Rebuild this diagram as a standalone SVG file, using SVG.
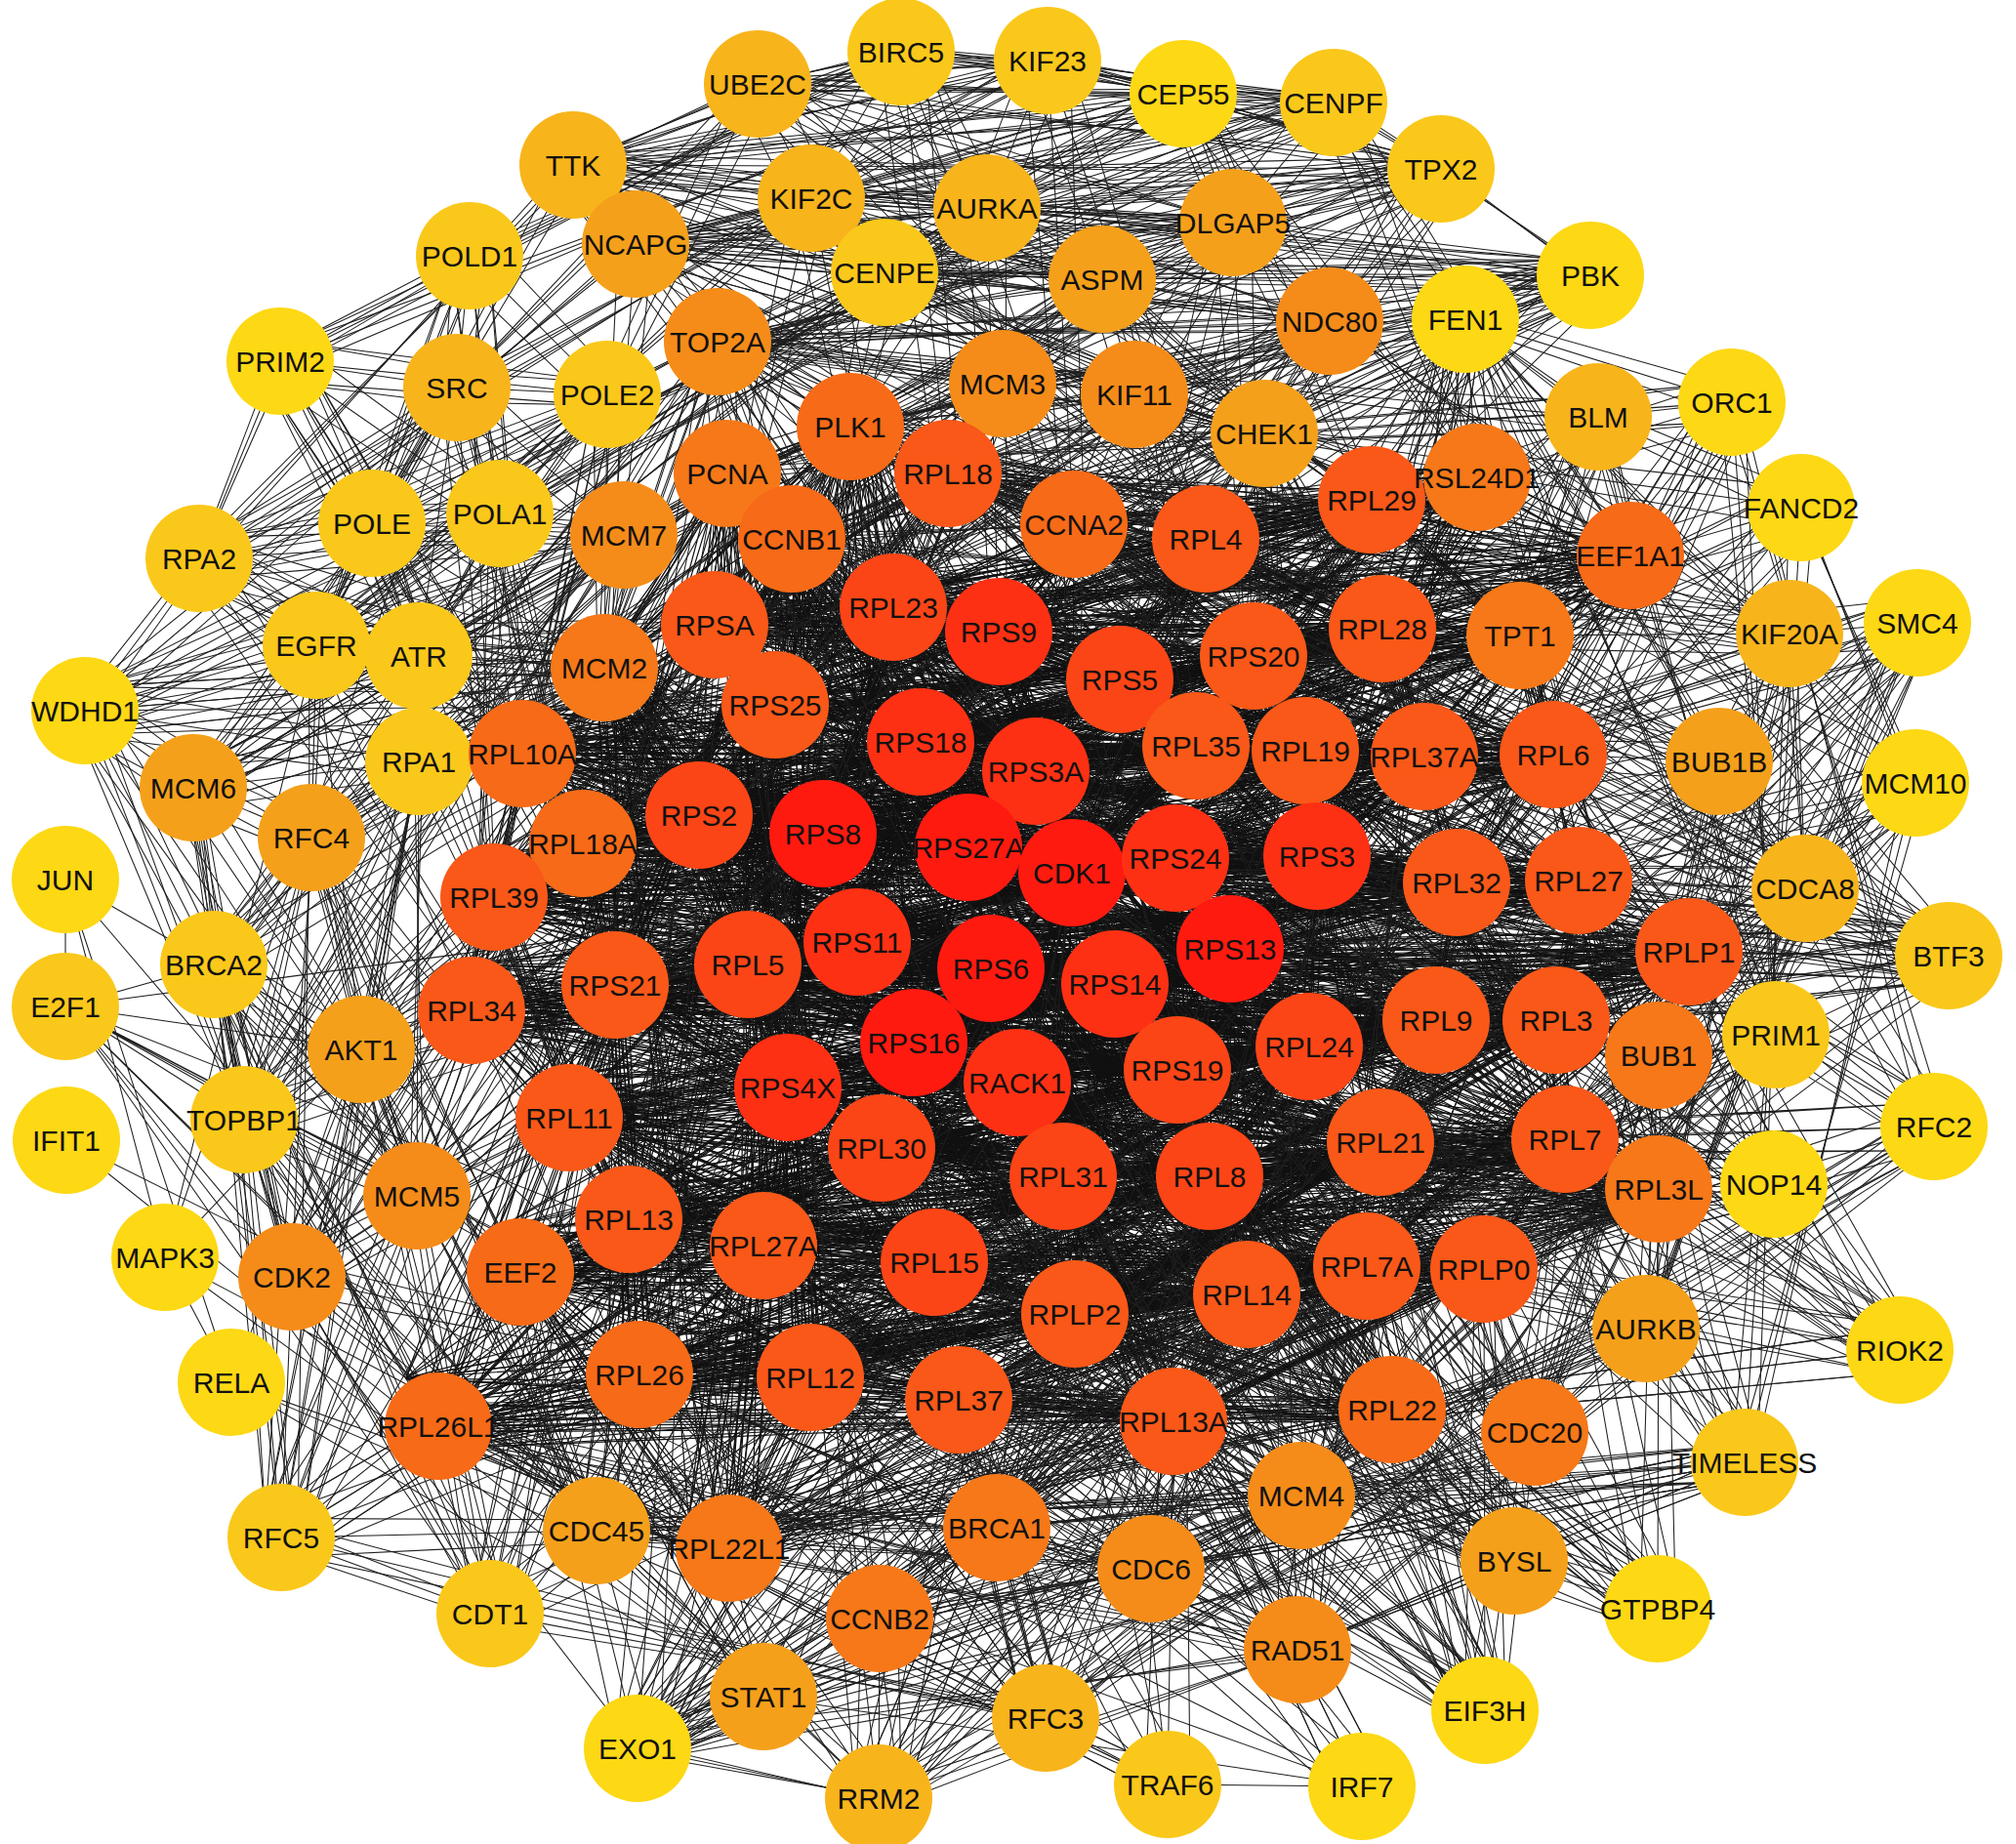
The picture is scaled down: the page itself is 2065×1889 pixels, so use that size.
<svg xmlns="http://www.w3.org/2000/svg" width="2065" height="1889" viewBox="0 0 2065 1889">
<style>
.e{fill:none;stroke:#1e1e1e;stroke-width:1.05;stroke-linejoin:bevel}
.k{stroke-width:1.2;stroke:#111}
text{font-family:"Liberation Sans",Arial,sans-serif;font-size:30px;fill:#111;text-anchor:middle;dominant-baseline:central}
.c1{fill:#FDD814}.c2{fill:#FAC81A}.c3{fill:#F8B41B}.c4{fill:#F5A01A}.c5{fill:#F58C19}.c6{fill:#F67818}.c7{fill:#F76A17}.c8{fill:#F95818}.c9{fill:#FC4516}.c10{fill:#FE3013}.c11{fill:#FF1A10}
</style>
<rect width="2065" height="1889" fill="#fff"/>
<g id="connectors">
<g id="core">
<path class="e k" d="M971 485L1100 537L1235 552L1405 512L1513 489L1670 569L915 622L732 640L1023 647L1147 696L1284 672L1416 644L1557 651L794 722L943 760L1061 790L1225 764L1337 769L1459 775L1591 773L535 772L597 864L716 835L843 854L992 868L1098 894L1204 879L1349 877L1492 904L1617 902L506 919L878 965L766 988L1015 992L1142 1008L1260 972L1730 975L483 1035L630 1009L1471 1045L1594 1045L936 1068L1042 1109L1206 1096L1341 1072L807 1114L583 1145L903 1176L1089 1205L1239 1205L1414 1170L1603 1167L1699 1218L644 1249L782 1276L957 1293L533 1303L1101 1346L1277 1326L1400 1297L1520 1300L655 1408L830 1411L982 1434L449 1461L1202 1456L1426 1444L747 1586L619 684L811 552L871 437L745 485"/>
<path class="e k" d="M971 485L1235 552L1513 489L915 622L1023 647L1284 672L1557 651L943 760L1225 764L1459 775L535 772L716 835L992 868L1204 879L1492 904L506 919L766 988L1142 1008L1730 975L630 1009L1594 1045L1042 1109L1341 1072L583 1145L1089 1205L1414 1170L1699 1218L782 1276L533 1303L1277 1326L1520 1300L830 1411L449 1461L1426 1444L619 684L871 437M1100 537L1405 512L1670 569L732 640L1147 696L1416 644L794 722L1061 790L1337 769L1591 773L597 864L843 854L1098 894L1349 877L1617 902L878 965L1015 992L1260 972L483 1035L1471 1045L936 1068L1206 1096L807 1114L903 1176L1239 1205L1603 1167L644 1249L957 1293L1101 1346L1400 1297L655 1408L982 1434L1202 1456L747 1586L811 552L745 485"/>
<path class="e k" d="M971 485L1405 512L915 622L1147 696L1557 651L1061 790L1459 775L597 864L992 868L1349 877L506 919L1015 992L1730 975L1471 1045L1042 1109L807 1114L1089 1205L1603 1167L782 1276L1101 1346L1520 1300L982 1434L1426 1444L811 552M1100 537L1513 489L732 640L1284 672L794 722L1225 764L1591 773L716 835L1098 894L1492 904L878 965L1142 1008L483 1035L1594 1045L1206 1096L583 1145L1239 1205L1699 1218L957 1293L1277 1326L655 1408L449 1461L747 1586L871 437M1235 552L1670 569L1023 647L1416 644L943 760L1337 769L535 772L843 854L1204 879L1617 902L766 988L1260 972L630 1009L936 1068L1341 1072L903 1176L1414 1170L644 1249L533 1303L1400 1297L830 1411L1202 1456L619 684L745 485"/>
<path class="e k" d="M971 485L1670 569L1284 672L1061 790L535 772L1098 894L506 919L1260 972L1594 1045L807 1114L1414 1170L957 1293L1520 1300L1202 1456L871 437M1100 537L915 622L1416 644L1225 764L597 864L1204 879L878 965L1730 975L936 1068L583 1145L1603 1167L533 1303L655 1408L1426 1444L745 485M1235 552L732 640L1557 651L1337 769L716 835L1349 877L766 988L483 1035L1042 1109L903 1176L1699 1218L1101 1346L830 1411L747 1586M1405 512L1023 647L794 722L1459 775L843 854L1492 904L1015 992L630 1009L1206 1096L1089 1205L644 1249L1277 1326L982 1434L619 684M1513 489L1147 696L943 760L1591 773L992 868L1617 902L1142 1008L1471 1045L1341 1072L1239 1205L782 1276L1400 1297L449 1461L811 552"/>
<path class="e k" d="M971 485L732 640L943 760L597 864L1492 904L1260 972L1042 1109L1239 1205L533 1303L982 1434L871 437M1100 537L1023 647L1061 790L716 835L1617 902L1730 975L1206 1096L1414 1170L1101 1346L449 1461L745 485M1235 552L1147 696L1225 764L843 854L506 919L483 1035L1341 1072L1603 1167L1277 1326L1202 1456M1405 512L1284 672L1337 769L992 868L878 965L630 1009L807 1114L1699 1218L1400 1297L1426 1444M1513 489L1416 644L1459 775L1098 894L766 988L1471 1045L583 1145L644 1249L1520 1300L747 1586M1670 569L1557 651L1591 773L1204 879L1015 992L1594 1045L903 1176L782 1276L655 1408L619 684M915 622L794 722L535 772L1349 877L1142 1008L936 1068L1089 1205L957 1293L830 1411L811 552"/>
<path class="e k" d="M971 485L1147 696L1459 775L1349 877L1730 975L807 1114L782 1276L982 1434M1100 537L1284 672L1591 773L1492 904L483 1035L583 1145L957 1293L449 1461M1235 552L1416 644L535 772L1617 902L630 1009L903 1176L533 1303L1202 1456M1405 512L1557 651L597 864L506 919L1471 1045L1089 1205L1101 1346L1426 1444M1513 489L794 722L716 835L878 965L1594 1045L1239 1205L1277 1326L747 1586M1670 569L943 760L843 854L766 988L936 1068L1414 1170L1400 1297L619 684M915 622L1061 790L992 868L1015 992L1042 1109L1603 1167L1520 1300L811 552M732 640L1225 764L1098 894L1142 1008L1206 1096L1699 1218L655 1408L871 437M1023 647L1337 769L1204 879L1260 972L1341 1072L644 1249L830 1411L745 485"/>
<path class="e k" d="M971 485L1416 644L716 835L1015 992L1341 1072L957 1293L1426 1444M1100 537L1557 651L843 854L1142 1008L807 1114L533 1303L747 1586M1235 552L794 722L992 868L1260 972L583 1145L1101 1346L619 684M1405 512L943 760L1098 894L1730 975L903 1176L1277 1326L811 552M1513 489L1061 790L1204 879L483 1035L1089 1205L1400 1297L871 437M1670 569L1225 764L1349 877L630 1009L1239 1205L1520 1300L745 485M915 622L1337 769L1492 904L1471 1045L1414 1170L655 1408M732 640L1459 775L1617 902L1594 1045L1603 1167L830 1411M1023 647L1591 773L506 919L936 1068L1699 1218L982 1434M1147 696L535 772L878 965L1042 1109L644 1249L449 1461M1284 672L597 864L766 988L1206 1096L782 1276L1202 1456"/>
<path class="e k" d="M971 485L794 722L1204 879L1471 1045L1699 1218L1202 1456M1100 537L943 760L1349 877L1594 1045L644 1249L1426 1444M1235 552L1061 790L1492 904L936 1068L782 1276L747 1586M1405 512L1225 764L1617 902L1042 1109L957 1293L619 684M1513 489L1337 769L506 919L1206 1096L533 1303L811 552M1670 569L1459 775L878 965L1341 1072L1101 1346L871 437M915 622L1591 773L766 988L807 1114L1277 1326L745 485M732 640L535 772L1015 992L583 1145L1400 1297M1023 647L597 864L1142 1008L903 1176L1520 1300M1147 696L716 835L1260 972L1089 1205L655 1408M1284 672L843 854L1730 975L1239 1205L830 1411M1416 644L992 868L483 1035L1414 1170L982 1434M1557 651L1098 894L630 1009L1603 1167L449 1461"/>
<path class="e k" d="M971 485L1337 769L1142 1008L1603 1167L619 684M1100 537L1459 775L1260 972L1699 1218L811 552M1235 552L1591 773L1730 975L644 1249L871 437M1405 512L535 772L483 1035L782 1276L745 485M1513 489L597 864L630 1009L957 1293M1670 569L716 835L1471 1045L533 1303M915 622L843 854L1594 1045L1101 1346M732 640L992 868L936 1068L1277 1326M1023 647L1098 894L1042 1109L1400 1297M1147 696L1204 879L1206 1096L1520 1300M1284 672L1349 877L1341 1072L655 1408M1416 644L1492 904L807 1114L830 1411M1557 651L1617 902L583 1145L982 1434M794 722L506 919L903 1176L449 1461M943 760L878 965L1089 1205L1202 1456M1061 790L766 988L1239 1205L1426 1444M1225 764L1015 992L1414 1170L747 1586"/>
<path class="e k" d="M971 485L843 854L583 1145L811 552M1100 537L992 868L903 1176L871 437M1235 552L1098 894L1089 1205L745 485M1405 512L1204 879L1239 1205M1513 489L1349 877L1414 1170M1670 569L1492 904L1603 1167M915 622L1617 902L1699 1218M732 640L506 919L644 1249M1023 647L878 965L782 1276M1147 696L766 988L957 1293M1284 672L1015 992L533 1303M1416 644L1142 1008L1101 1346M1557 651L1260 972L1277 1326M794 722L1730 975L1400 1297M943 760L483 1035L1520 1300M1061 790L630 1009L655 1408M1225 764L1471 1045L830 1411M1337 769L1594 1045L982 1434M1459 775L936 1068L449 1461M1591 773L1042 1109L1202 1456M535 772L1206 1096L1426 1444M597 864L1341 1072L747 1586M716 835L807 1114L619 684"/>
</g>
<g id="outer">
<path class="e" d="M923 53L1073 62L776 86L1212 96L1366 105L587 169L831 203L1011 213L1476 173L1263 228L651 250L906 279L1129 286L1629 282L1362 329L735 350L1162 404L1295 444L871 437L811 552L1100 537L1833 649L1761 780L1849 910L1699 1081L1098 894L1686 1361L1572 1467L1964 638L901 1658L900 1842L653 1791L745 485L1333 1532L1179 1607L611 1568L1787 1498L1329 1690L1021 1565L1501 327L1962 802"/>
<path class="e" d="M923 53L776 86L1366 105L831 203L1476 173L651 250L1129 286L1362 329L1162 404L871 437L1100 537L1761 780L1699 1081L1686 1361L1964 638L900 1842L745 485L1179 1607L1787 1498L1021 1565L1962 802M1073 62L1212 96L587 169L1011 213L1263 228L906 279L1629 282L735 350L1295 444L811 552L1833 649L1849 910L1098 894L1572 1467L901 1658L653 1791L1333 1532L611 1568L1329 1690L1501 327"/>
<path class="e" d="M923 53L1212 96L831 203L1263 228L1129 286L735 350L871 437L1833 649L1699 1081L1572 1467L900 1842L1333 1532L1787 1498L1501 327M1073 62L1366 105L1011 213L651 250L1629 282L1162 404L811 552L1761 780L1098 894L1964 638L653 1791L1179 1607L1329 1690L1962 802M776 86L587 169L1476 173L906 279L1362 329L1295 444L1100 537L1849 910L1686 1361L901 1658L745 485L611 1568L1021 1565"/>
<path class="e" d="M923 53L587 169L651 250L735 350L1100 537L1098 894L900 1842L611 1568L1962 802M1073 62L831 203L906 279L1162 404L1833 649L1686 1361L653 1791L1787 1498M776 86L1011 213L1129 286L1295 444L1761 780L1572 1467L745 485L1329 1690M1212 96L1476 173L1629 282L871 437L1849 910L1964 638L1333 1532L1021 1565M1366 105L1263 228L1362 329L811 552L1699 1081L901 1658L1179 1607L1501 327"/>
<path class="e" d="M923 53L1011 213L1362 329L1833 649L1964 638L611 1568M1073 62L1476 173L735 350L1761 780L901 1658L1787 1498M776 86L1263 228L1162 404L1849 910L900 1842L1329 1690M1212 96L651 250L1295 444L1699 1081L653 1791L1021 1565M1366 105L906 279L871 437L1098 894L745 485L1501 327M587 169L1129 286L811 552L1686 1361L1333 1532L1962 802M831 203L1629 282L1100 537L1572 1467L1179 1607"/>
<path class="e" d="M923 53L1366 105L1476 173L1129 286L1162 404L1100 537M1073 62L587 169L1263 228L1629 282L1295 444M776 86L831 203L651 250L1362 329L871 437M1212 96L1011 213L906 279L735 350L811 552M923 53L831 203L1129 286L871 437M1073 62L1011 213L1629 282L811 552M776 86L1476 173L1362 329L1100 537M1212 96L1263 228L735 350M1366 105L651 250L1162 404M587 169L906 279L1295 444"/>
<path class="e" d="M481 262L287 370L468 397L622 404L512 526L381 536L204 572L324 661L429 672L639 548L619 684L87 728L198 807L429 780L319 858L219 988L250 1147L370 1075L427 1225L299 1308L288 1575L611 1568L502 1653L1027 393L745 485L735 350L1333 1532L1071 1760L1981 1154L1819 1060L1501 327L1774 412L1637 427L1179 1607L1021 1565L1329 1690L653 1791L1098 894L1295 444L1845 520L1787 1498L1962 802"/>
<path class="e" d="M481 262L468 397L512 526L204 572L429 672L619 684L198 807L319 858L250 1147L427 1225L288 1575L502 1653L745 485L1333 1532L1981 1154L1501 327L1637 427L1021 1565L653 1791L1295 444L1787 1498M287 370L622 404L381 536L324 661L639 548L87 728L429 780L219 988L370 1075L299 1308L611 1568L1027 393L735 350L1071 1760L1819 1060L1774 412L1179 1607L1329 1690L1098 894L1845 520L1962 802"/>
<path class="e" d="M481 262L622 404L204 572L639 548L198 807L219 988L427 1225L611 1568L745 485L1071 1760L1501 327L1179 1607L653 1791L1845 520M287 370L512 526L324 661L619 684L429 780L250 1147L299 1308L502 1653L735 350L1981 1154L1774 412L1021 1565L1098 894L1787 1498M468 397L381 536L429 672L87 728L319 858L370 1075L288 1575L1027 393L1333 1532L1819 1060L1637 427L1329 1690L1295 444L1962 802"/>
<path class="e" d="M481 262L381 536L619 684L219 988L288 1575L735 350L1501 327L1329 1690L1787 1498M287 370L204 572L87 728L250 1147L611 1568L1333 1532L1774 412L653 1791L1962 802M468 397L324 661L198 807L370 1075L502 1653L1071 1760L1637 427L1098 894M622 404L429 672L429 780L427 1225L1027 393L1981 1154L1179 1607L1295 444M512 526L639 548L319 858L299 1308L745 485L1819 1060L1021 1565L1845 520"/>
<path class="e" d="M481 262L324 661L319 858L611 1568L1981 1154L1329 1690M287 370L429 672L219 988L502 1653L1819 1060L653 1791M468 397L639 548L250 1147L1027 393L1501 327L1098 894M622 404L619 684L370 1075L745 485L1774 412L1295 444M512 526L87 728L427 1225L735 350L1637 427L1845 520M381 536L198 807L299 1308L1333 1532L1179 1607L1787 1498M204 572L429 780L288 1575L1071 1760L1021 1565L1962 802"/>
<path class="e" d="M481 262L512 526L429 672L198 807L250 1147L288 1575M287 370L381 536L639 548L429 780L370 1075L611 1568M468 397L204 572L619 684L319 858L427 1225L502 1653M622 404L324 661L87 728L219 988L299 1308"/>
<path class="e" d="M481 262L923 53L287 370L1073 62L468 397L776 86L622 404L1212 96L512 526L1366 105L381 536L587 169L204 572L831 203L324 661L1011 213L429 672L1476 173L639 548L1263 228L619 684L651 250L87 728L906 279L198 807L1129 286L429 780L1629 282L319 858L1362 329L219 988L735 350L250 1147L1162 404L370 1075L1295 444L427 1225L871 437L299 1308L811 552"/>
<path class="e" d="M971 485L923 53L1100 537L1073 62L1235 552L776 86L1405 512L1212 96L1513 489L1366 105L1670 569L587 169L915 622L831 203L732 640L1011 213L1023 647L1476 173L1147 696L1263 228L1284 672L651 250L1416 644L906 279L1557 651L1129 286L794 722L1629 282L943 760L1362 329L1061 790L735 350L1225 764L1162 404L1337 769L1295 444L1459 775L871 437L1591 773L811 552"/>
<path class="e" d="M502 1653L644 1249L611 1568L782 1276L653 1791L957 1293L782 1738L533 1303L900 1842L1101 1346L901 1658L1277 1326L1021 1565L655 1408L1071 1760L830 1411L1179 1607L982 1434L1196 1828L449 1461L1329 1690L1202 1456L1333 1532L903 1176L1395 1830L1089 1205L1551 1599L583 1145L1521 1752L807 1114L1698 1648L1239 1205L288 1575L1042 1109L747 1586L1015 992"/>
<path class="e" d="M502 1653L782 1276L611 1568L957 1293L653 1791L533 1303L782 1738L1101 1346L900 1842L1277 1326L901 1658L655 1408L1021 1565L830 1411L1071 1760L982 1434L1179 1607L449 1461L1196 1828L1202 1456L1329 1690L903 1176L1333 1532L1089 1205L1395 1830L583 1145L1551 1599L807 1114L1521 1752L1239 1205L1698 1648L1042 1109L288 1575L1015 992L747 1586L644 1249"/>
<path class="e" d="M481 262L535 772L287 370L597 864L468 397L506 919L622 404L483 1035L512 526L630 1009L381 536L583 1145L204 572L716 835L324 661L732 640L429 672L794 722L87 728L619 684L198 807L745 485L429 780L644 1249L319 858L533 1303L219 988L449 1461L250 1147L766 988L370 1075L843 854L427 1225L1098 894L299 1308L992 868"/>
<path class="e" d="M1629 282L1405 512L1501 327L1513 489L1774 412L1670 569L1637 427L1416 644L1845 520L1557 651L1833 649L1459 775L1964 638L1591 773L1761 780L1492 904L1962 802L1617 902L1849 910L1730 975L1996 979L1471 1045L1819 1060L1594 1045L1699 1081L1603 1167L1981 1154L1414 1170L1817 1213L1520 1300L1699 1218L1400 1297L1686 1361L1426 1444L1946 1383L1349 877L1787 1498L1337 769L1572 1467L1284 672"/>
<path class="e" d="M1730 975L1996 979L1617 902M1594 1045L1996 979L1492 904M1591 773L1996 979L1459 775M1471 1045L1996 979L1349 877M1603 1167L1996 979L1699 1218M1557 651L1996 979L1670 569M1341 1072L1996 979L1098 894M1337 769L1996 979L1260 972M1204 879L1996 979L1416 644"/>
<path class="e" d="M1520 1300L1521 1752L1426 1444M1202 1456L1521 1752L1400 1297M1277 1326L1521 1752L1603 1167M1414 1170L1521 1752L1101 1346M982 1434L1521 1752L1239 1205M830 1411L1521 1752L1098 894M1426 1444L1698 1648L1520 1300M1699 1218L1698 1648L1400 1297M1202 1456L1698 1648L1603 1167M1277 1326L1698 1648L982 1434"/>
<path class="e" d="M1699 1218L1946 1383L1603 1167M1594 1045L1946 1383L1730 975M1520 1300L1946 1383L1471 1045M1414 1170L1946 1383L1400 1297M1617 902L1946 1383L1426 1444M1426 1444L1551 1599L1202 1456M1400 1297L1551 1599L1277 1326M1520 1300L1551 1599L1101 1346M1239 1205L1551 1599L1414 1170M957 1293L1551 1599L1089 1205M1699 1218L1817 1213L1603 1167M1594 1045L1817 1213L1730 975M1471 1045L1817 1213L1414 1170M1520 1300L1817 1213L1492 904"/>
</g>
<path class="e" d="M67 901L67 1031M67 901L370 1075M67 901L169 1288M67 901L782 1738M67 901L237 1416M219 988L67 1031L370 1075M250 1147L67 1031L427 1225M299 1308L67 1031L611 1568M502 1653L67 1031L653 1791M900 1842L67 1031L1021 1565M1179 1607L67 1031L1329 1690M1333 1532L67 1031L1098 894M782 1738L68 1168L1395 1830M324 661L169 1288L468 397M370 1075L169 1288L237 1416M782 1738L169 1288L1196 1828M1196 1828L237 1416L782 1738M370 1075L237 1416L1395 1830M1395 1830L782 1738L468 397M324 661L782 1738L370 1075M324 661L468 397L370 1075M324 661L370 1075M1395 1830L1196 1828L992 868M370 1075L1196 1828L1098 894"/>
<use href="#core" transform="rotate(2 1100 950)"/>
<use href="#core" transform="rotate(-2 1100 950)"/>
<use href="#core" transform="translate(7 -6)"/>
<use href="#core" transform="translate(-7 6)"/>
<use href="#core" transform="rotate(3.5 1100 950) translate(-4 -8)"/>
<use href="#outer" transform="rotate(1.5 1030 950)"/>
<use href="#outer" transform="rotate(-1.5 1030 950)"/>
</g>
<g id="nodes">
<g id="BIRC5"><circle class="c2" cx="923" cy="53" r="55"/><text x="923" y="53">BIRC5</text></g>
<g id="KIF23"><circle class="c2" cx="1073" cy="62" r="55"/><text x="1073" y="62">KIF23</text></g>
<g id="UBE2C"><circle class="c3" cx="776" cy="86" r="55"/><text x="776" y="86">UBE2C</text></g>
<g id="CEP55"><circle class="c1" cx="1212" cy="96" r="55"/><text x="1212" y="96">CEP55</text></g>
<g id="CENPF"><circle class="c2" cx="1366" cy="105" r="55"/><text x="1366" y="105">CENPF</text></g>
<g id="TTK"><circle class="c3" cx="587" cy="169" r="55"/><text x="587" y="169">TTK</text></g>
<g id="KIF2C"><circle class="c3" cx="831" cy="203" r="55"/><text x="831" y="203">KIF2C</text></g>
<g id="AURKA"><circle class="c3" cx="1011" cy="213" r="55"/><text x="1011" y="213">AURKA</text></g>
<g id="TPX2"><circle class="c2" cx="1476" cy="173" r="55"/><text x="1476" y="173">TPX2</text></g>
<g id="DLGAP5"><circle class="c4" cx="1263" cy="228" r="55"/><text x="1263" y="228">DLGAP5</text></g>
<g id="NCAPG"><circle class="c4" cx="651" cy="250" r="55"/><text x="651" y="250">NCAPG</text></g>
<g id="POLD1"><circle class="c2" cx="481" cy="262" r="55"/><text x="481" y="262">POLD1</text></g>
<g id="CENPE"><circle class="c2" cx="906" cy="279" r="55"/><text x="906" y="279">CENPE</text></g>
<g id="ASPM"><circle class="c4" cx="1129" cy="286" r="55"/><text x="1129" y="286">ASPM</text></g>
<g id="PBK"><circle class="c1" cx="1629" cy="282" r="55"/><text x="1629" y="282">PBK</text></g>
<g id="FEN1"><circle class="c1" cx="1501" cy="327" r="55"/><text x="1501" y="327">FEN1</text></g>
<g id="NDC80"><circle class="c5" cx="1362" cy="329" r="55"/><text x="1362" y="329">NDC80</text></g>
<g id="PRIM2"><circle class="c1" cx="287" cy="370" r="55"/><text x="287" y="370">PRIM2</text></g>
<g id="SRC"><circle class="c3" cx="468" cy="397" r="55"/><text x="468" y="397">SRC</text></g>
<g id="POLE2"><circle class="c2" cx="622" cy="404" r="55"/><text x="622" y="404">POLE2</text></g>
<g id="TOP2A"><circle class="c5" cx="735" cy="350" r="55"/><text x="735" y="350">TOP2A</text></g>
<g id="MCM3"><circle class="c5" cx="1027" cy="393" r="55"/><text x="1027" y="393">MCM3</text></g>
<g id="KIF11"><circle class="c5" cx="1162" cy="404" r="55"/><text x="1162" y="404">KIF11</text></g>
<g id="ORC1"><circle class="c1" cx="1774" cy="412" r="55"/><text x="1774" y="412">ORC1</text></g>
<g id="BLM"><circle class="c3" cx="1637" cy="427" r="55"/><text x="1637" y="427">BLM</text></g>
<g id="CHEK1"><circle class="c4" cx="1295" cy="444" r="55"/><text x="1295" y="444">CHEK1</text></g>
<g id="PLK1"><circle class="c7" cx="871" cy="437" r="55"/><text x="871" y="437">PLK1</text></g>
<g id="PCNA"><circle class="c6" cx="745" cy="485" r="55"/><text x="745" y="485">PCNA</text></g>
<g id="RPL18"><circle class="c8" cx="971" cy="485" r="55"/><text x="971" y="485">RPL18</text></g>
<g id="POLA1"><circle class="c2" cx="512" cy="526" r="55"/><text x="512" y="526">POLA1</text></g>
<g id="POLE"><circle class="c2" cx="381" cy="536" r="55"/><text x="381" y="536">POLE</text></g>
<g id="RPA2"><circle class="c2" cx="204" cy="572" r="55"/><text x="204" y="572">RPA2</text></g>
<g id="MCM7"><circle class="c5" cx="639" cy="548" r="55"/><text x="639" y="548">MCM7</text></g>
<g id="CCNB1"><circle class="c7" cx="811" cy="552" r="55"/><text x="811" y="552">CCNB1</text></g>
<g id="CCNA2"><circle class="c7" cx="1100" cy="537" r="55"/><text x="1100" y="537">CCNA2</text></g>
<g id="RPL4"><circle class="c8" cx="1235" cy="552" r="55"/><text x="1235" y="552">RPL4</text></g>
<g id="RPL29"><circle class="c8" cx="1405" cy="512" r="55"/><text x="1405" y="512">RPL29</text></g>
<g id="RSL24D1"><circle class="c6" cx="1513" cy="489" r="55"/><text x="1513" y="489">RSL24D1</text></g>
<g id="FANCD2"><circle class="c1" cx="1845" cy="520" r="55"/><text x="1845" y="520">FANCD2</text></g>
<g id="EEF1A1"><circle class="c7" cx="1670" cy="569" r="55"/><text x="1670" y="569">EEF1A1</text></g>
<g id="RPL23"><circle class="c9" cx="915" cy="622" r="55"/><text x="915" y="622">RPL23</text></g>
<g id="RPSA"><circle class="c8" cx="732" cy="640" r="55"/><text x="732" y="640">RPSA</text></g>
<g id="RPS9"><circle class="c10" cx="1023" cy="647" r="55"/><text x="1023" y="647">RPS9</text></g>
<g id="EGFR"><circle class="c2" cx="324" cy="661" r="55"/><text x="324" y="661">EGFR</text></g>
<g id="ATR"><circle class="c2" cx="429" cy="672" r="55"/><text x="429" y="672">ATR</text></g>
<g id="MCM2"><circle class="c6" cx="619" cy="684" r="55"/><text x="619" y="684">MCM2</text></g>
<g id="RPS5"><circle class="c9" cx="1147" cy="696" r="55"/><text x="1147" y="696">RPS5</text></g>
<g id="RPS20"><circle class="c8" cx="1284" cy="672" r="55"/><text x="1284" y="672">RPS20</text></g>
<g id="RPL28"><circle class="c8" cx="1416" cy="644" r="55"/><text x="1416" y="644">RPL28</text></g>
<g id="TPT1"><circle class="c6" cx="1557" cy="651" r="55"/><text x="1557" y="651">TPT1</text></g>
<g id="KIF20A"><circle class="c3" cx="1833" cy="649" r="55"/><text x="1833" y="649">KIF20A</text></g>
<g id="SMC4"><circle class="c1" cx="1964" cy="638" r="55"/><text x="1964" y="638">SMC4</text></g>
<g id="WDHD1"><circle class="c1" cx="87" cy="728" r="55"/><text x="87" y="728">WDHD1</text></g>
<g id="RPS25"><circle class="c8" cx="794" cy="722" r="55"/><text x="794" y="722">RPS25</text></g>
<g id="RPS18"><circle class="c10" cx="943" cy="760" r="55"/><text x="943" y="760">RPS18</text></g>
<g id="RPS3A"><circle class="c10" cx="1061" cy="790" r="55"/><text x="1061" y="790">RPS3A</text></g>
<g id="RPL35"><circle class="c8" cx="1225" cy="764" r="55"/><text x="1225" y="764">RPL35</text></g>
<g id="RPL19"><circle class="c8" cx="1337" cy="769" r="55"/><text x="1337" y="769">RPL19</text></g>
<g id="RPL37A"><circle class="c8" cx="1459" cy="775" r="55"/><text x="1459" y="775">RPL37A</text></g>
<g id="RPL6"><circle class="c8" cx="1591" cy="773" r="55"/><text x="1591" y="773">RPL6</text></g>
<g id="BUB1B"><circle class="c4" cx="1761" cy="780" r="55"/><text x="1761" y="780">BUB1B</text></g>
<g id="MCM10"><circle class="c1" cx="1962" cy="802" r="55"/><text x="1962" y="802">MCM10</text></g>
<g id="MCM6"><circle class="c4" cx="198" cy="807" r="55"/><text x="198" y="807">MCM6</text></g>
<g id="RPA1"><circle class="c2" cx="429" cy="780" r="55"/><text x="429" y="780">RPA1</text></g>
<g id="RPL10A"><circle class="c7" cx="535" cy="772" r="55"/><text x="535" y="772">RPL10A</text></g>
<g id="RFC4"><circle class="c4" cx="319" cy="858" r="55"/><text x="319" y="858">RFC4</text></g>
<g id="RPL18A"><circle class="c7" cx="597" cy="864" r="55"/><text x="597" y="864">RPL18A</text></g>
<g id="RPS2"><circle class="c9" cx="716" cy="835" r="55"/><text x="716" y="835">RPS2</text></g>
<g id="RPS8"><circle class="c11" cx="843" cy="854" r="55"/><text x="843" y="854">RPS8</text></g>
<g id="RPS27A"><circle class="c11" cx="992" cy="868" r="55"/><text x="992" y="868">RPS27A</text></g>
<g id="CDK1"><circle class="c11" cx="1098" cy="894" r="55"/><text x="1098" y="894">CDK1</text></g>
<g id="RPS24"><circle class="c10" cx="1204" cy="879" r="55"/><text x="1204" y="879">RPS24</text></g>
<g id="RPS3"><circle class="c10" cx="1349" cy="877" r="55"/><text x="1349" y="877">RPS3</text></g>
<g id="RPL32"><circle class="c8" cx="1492" cy="904" r="55"/><text x="1492" y="904">RPL32</text></g>
<g id="RPL27"><circle class="c8" cx="1617" cy="902" r="55"/><text x="1617" y="902">RPL27</text></g>
<g id="CDCA8"><circle class="c3" cx="1849" cy="910" r="55"/><text x="1849" y="910">CDCA8</text></g>
<g id="JUN"><circle class="c1" cx="67" cy="901" r="55"/><text x="67" y="901">JUN</text></g>
<g id="RPL39"><circle class="c8" cx="506" cy="919" r="55"/><text x="506" y="919">RPL39</text></g>
<g id="BRCA2"><circle class="c2" cx="219" cy="988" r="55"/><text x="219" y="988">BRCA2</text></g>
<g id="E2F1"><circle class="c2" cx="67" cy="1031" r="55"/><text x="67" y="1031">E2F1</text></g>
<g id="RPS11"><circle class="c10" cx="878" cy="965" r="55"/><text x="878" y="965">RPS11</text></g>
<g id="RPL5"><circle class="c9" cx="766" cy="988" r="55"/><text x="766" y="988">RPL5</text></g>
<g id="RPS6"><circle class="c11" cx="1015" cy="992" r="55"/><text x="1015" y="992">RPS6</text></g>
<g id="RPS14"><circle class="c10" cx="1142" cy="1008" r="55"/><text x="1142" y="1008">RPS14</text></g>
<g id="RPS13"><circle class="c11" cx="1260" cy="972" r="55"/><text x="1260" y="972">RPS13</text></g>
<g id="RPLP1"><circle class="c8" cx="1730" cy="975" r="55"/><text x="1730" y="975">RPLP1</text></g>
<g id="BTF3"><circle class="c2" cx="1996" cy="979" r="55"/><text x="1996" y="979">BTF3</text></g>
<g id="RPL34"><circle class="c8" cx="483" cy="1035" r="55"/><text x="483" y="1035">RPL34</text></g>
<g id="AKT1"><circle class="c4" cx="370" cy="1075" r="55"/><text x="370" y="1075">AKT1</text></g>
<g id="RPS21"><circle class="c8" cx="630" cy="1009" r="55"/><text x="630" y="1009">RPS21</text></g>
<g id="RPL9"><circle class="c8" cx="1471" cy="1045" r="55"/><text x="1471" y="1045">RPL9</text></g>
<g id="RPL3"><circle class="c8" cx="1594" cy="1045" r="55"/><text x="1594" y="1045">RPL3</text></g>
<g id="BUB1"><circle class="c6" cx="1699" cy="1081" r="55"/><text x="1699" y="1081">BUB1</text></g>
<g id="PRIM1"><circle class="c2" cx="1819" cy="1060" r="55"/><text x="1819" y="1060">PRIM1</text></g>
<g id="RPS16"><circle class="c11" cx="936" cy="1068" r="55"/><text x="936" y="1068">RPS16</text></g>
<g id="RACK1"><circle class="c10" cx="1042" cy="1109" r="55"/><text x="1042" y="1109">RACK1</text></g>
<g id="RPS19"><circle class="c9" cx="1206" cy="1096" r="55"/><text x="1206" y="1096">RPS19</text></g>
<g id="RPL24"><circle class="c9" cx="1341" cy="1072" r="55"/><text x="1341" y="1072">RPL24</text></g>
<g id="RPS4X"><circle class="c10" cx="807" cy="1114" r="55"/><text x="807" y="1114">RPS4X</text></g>
<g id="TOPBP1"><circle class="c2" cx="250" cy="1147" r="55"/><text x="250" y="1147">TOPBP1</text></g>
<g id="IFIT1"><circle class="c1" cx="68" cy="1168" r="55"/><text x="68" y="1168">IFIT1</text></g>
<g id="RPL11"><circle class="c8" cx="583" cy="1145" r="55"/><text x="583" y="1145">RPL11</text></g>
<g id="RPL30"><circle class="c9" cx="903" cy="1176" r="55"/><text x="903" y="1176">RPL30</text></g>
<g id="RPL31"><circle class="c9" cx="1089" cy="1205" r="55"/><text x="1089" y="1205">RPL31</text></g>
<g id="RPL8"><circle class="c9" cx="1239" cy="1205" r="55"/><text x="1239" y="1205">RPL8</text></g>
<g id="RPL21"><circle class="c8" cx="1414" cy="1170" r="55"/><text x="1414" y="1170">RPL21</text></g>
<g id="RPL7"><circle class="c8" cx="1603" cy="1167" r="55"/><text x="1603" y="1167">RPL7</text></g>
<g id="RFC2"><circle class="c1" cx="1981" cy="1154" r="55"/><text x="1981" y="1154">RFC2</text></g>
<g id="NOP14"><circle class="c1" cx="1817" cy="1213" r="55"/><text x="1817" y="1213">NOP14</text></g>
<g id="RPL3L"><circle class="c6" cx="1699" cy="1218" r="55"/><text x="1699" y="1218">RPL3L</text></g>
<g id="MCM5"><circle class="c5" cx="427" cy="1225" r="55"/><text x="427" y="1225">MCM5</text></g>
<g id="RPL13"><circle class="c8" cx="644" cy="1249" r="55"/><text x="644" y="1249">RPL13</text></g>
<g id="RPL27A"><circle class="c8" cx="782" cy="1276" r="55"/><text x="782" y="1276">RPL27A</text></g>
<g id="RPL15"><circle class="c9" cx="957" cy="1293" r="55"/><text x="957" y="1293">RPL15</text></g>
<g id="EEF2"><circle class="c7" cx="533" cy="1303" r="55"/><text x="533" y="1303">EEF2</text></g>
<g id="CDK2"><circle class="c5" cx="299" cy="1308" r="55"/><text x="299" y="1308">CDK2</text></g>
<g id="MAPK3"><circle class="c1" cx="169" cy="1288" r="55"/><text x="169" y="1288">MAPK3</text></g>
<g id="RPLP2"><circle class="c8" cx="1101" cy="1346" r="55"/><text x="1101" y="1346">RPLP2</text></g>
<g id="RPL14"><circle class="c8" cx="1277" cy="1326" r="55"/><text x="1277" y="1326">RPL14</text></g>
<g id="RPL7A"><circle class="c8" cx="1400" cy="1297" r="55"/><text x="1400" y="1297">RPL7A</text></g>
<g id="RPLP0"><circle class="c8" cx="1520" cy="1300" r="55"/><text x="1520" y="1300">RPLP0</text></g>
<g id="AURKB"><circle class="c4" cx="1686" cy="1361" r="55"/><text x="1686" y="1361">AURKB</text></g>
<g id="RIOK2"><circle class="c1" cx="1946" cy="1383" r="55"/><text x="1946" y="1383">RIOK2</text></g>
<g id="RELA"><circle class="c1" cx="237" cy="1416" r="55"/><text x="237" y="1416">RELA</text></g>
<g id="RPL26"><circle class="c7" cx="655" cy="1408" r="55"/><text x="655" y="1408">RPL26</text></g>
<g id="RPL12"><circle class="c8" cx="830" cy="1411" r="55"/><text x="830" y="1411">RPL12</text></g>
<g id="RPL37"><circle class="c8" cx="982" cy="1434" r="55"/><text x="982" y="1434">RPL37</text></g>
<g id="RPL26L1"><circle class="c7" cx="449" cy="1461" r="55"/><text x="449" y="1461">RPL26L1</text></g>
<g id="RPL13A"><circle class="c8" cx="1202" cy="1456" r="55"/><text x="1202" y="1456">RPL13A</text></g>
<g id="RPL22"><circle class="c7" cx="1426" cy="1444" r="55"/><text x="1426" y="1444">RPL22</text></g>
<g id="CDC20"><circle class="c6" cx="1572" cy="1467" r="55"/><text x="1572" y="1467">CDC20</text></g>
<g id="TIMELESS"><circle class="c2" cx="1787" cy="1498" r="55"/><text x="1787" y="1498">TIMELESS</text></g>
<g id="MCM4"><circle class="c5" cx="1333" cy="1532" r="55"/><text x="1333" y="1532">MCM4</text></g>
<g id="RFC5"><circle class="c2" cx="288" cy="1575" r="55"/><text x="288" y="1575">RFC5</text></g>
<g id="CDC45"><circle class="c4" cx="611" cy="1568" r="55"/><text x="611" y="1568">CDC45</text></g>
<g id="RPL22L1"><circle class="c6" cx="747" cy="1586" r="55"/><text x="747" y="1586">RPL22L1</text></g>
<g id="BRCA1"><circle class="c6" cx="1021" cy="1565" r="55"/><text x="1021" y="1565">BRCA1</text></g>
<g id="CDC6"><circle class="c5" cx="1179" cy="1607" r="55"/><text x="1179" y="1607">CDC6</text></g>
<g id="BYSL"><circle class="c4" cx="1551" cy="1599" r="55"/><text x="1551" y="1599">BYSL</text></g>
<g id="CDT1"><circle class="c2" cx="502" cy="1653" r="55"/><text x="502" y="1653">CDT1</text></g>
<g id="CCNB2"><circle class="c6" cx="901" cy="1658" r="55"/><text x="901" y="1658">CCNB2</text></g>
<g id="RAD51"><circle class="c5" cx="1329" cy="1690" r="55"/><text x="1329" y="1690">RAD51</text></g>
<g id="GTPBP4"><circle class="c1" cx="1698" cy="1648" r="55"/><text x="1698" y="1648">GTPBP4</text></g>
<g id="STAT1"><circle class="c4" cx="782" cy="1738" r="55"/><text x="782" y="1738">STAT1</text></g>
<g id="RFC3"><circle class="c3" cx="1071" cy="1760" r="55"/><text x="1071" y="1760">RFC3</text></g>
<g id="EIF3H"><circle class="c1" cx="1521" cy="1752" r="55"/><text x="1521" y="1752">EIF3H</text></g>
<g id="EXO1"><circle class="c1" cx="653" cy="1791" r="55"/><text x="653" y="1791">EXO1</text></g>
<g id="RRM2"><circle class="c3" cx="900" cy="1842" r="55"/><text x="900" y="1842">RRM2</text></g>
<g id="TRAF6"><circle class="c2" cx="1196" cy="1828" r="55"/><text x="1196" y="1828">TRAF6</text></g>
<g id="IRF7"><circle class="c1" cx="1395" cy="1830" r="55"/><text x="1395" y="1830">IRF7</text></g>
</g>
</svg>
